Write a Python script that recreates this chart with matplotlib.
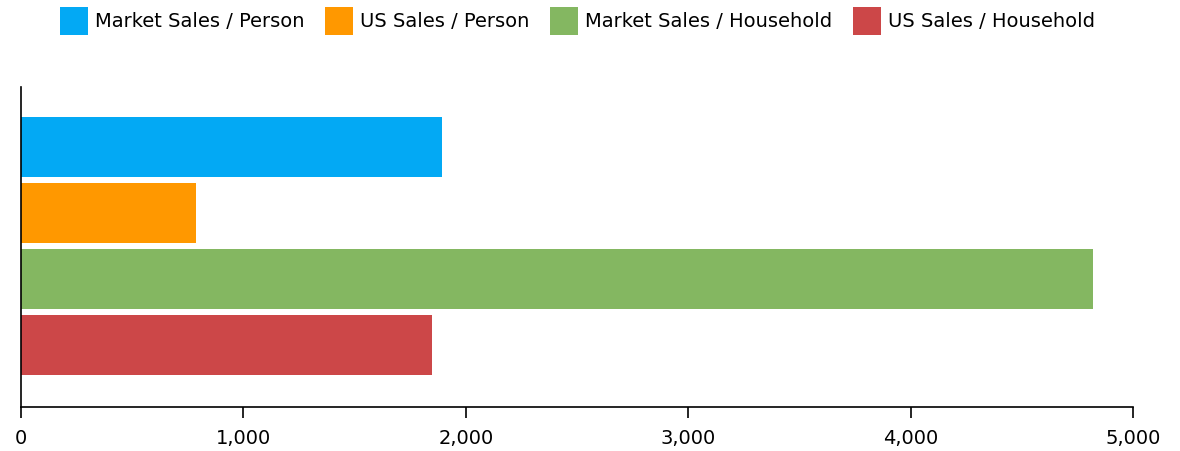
import numpy as np
import matplotlib
matplotlib.use("Agg")
import matplotlib.pyplot as plt
from matplotlib.patches import Patch
from matplotlib.ticker import FuncFormatter

# Data
series = ["Market Sales / Person", "US Sales / Person", "Market Sales / Household", "US Sales / Household"]
values = [1893, 787, 4820, 1848]
colors = ["#03A9F4", "#FF9800", "#84B761", "#CC4748"]
xticks = [0, 1000, 2000, 3000, 4000, 5000]

fig = plt.figure(figsize=(11.8, 4.51), dpi=100)
ax = fig.add_axes([21 / 1180, 1 - 407 / 451, (1133 - 21) / 1180, 320 / 451])

pos = np.arange(len(values))
ax.barh(pos, values, height=60 / 66, color=colors, linewidth=0)
ax.set_ylim(3 + 62 / 66, -60 / 66)
ax.set_xlim(0, 5000)

ax.set_xticks(xticks)
ax.xaxis.set_major_formatter(FuncFormatter(lambda v, p: f"{int(v):,}"))
ax.tick_params(axis="x", labelsize=14, length=8, width=1.2, pad=8, color="black")
ax.set_yticks([])
for s in ["top", "right"]:
    ax.spines[s].set_visible(False)
for s in ["left", "bottom"]:
    ax.spines[s].set_linewidth(1.2)
    ax.spines[s].set_color("black")

handles = [Patch(facecolor=c, edgecolor="none") for c in colors]
fig.legend(handles, series, loc="center", bbox_to_anchor=(577.5 / 1180, 1 - 21 / 451),
           ncol=4, frameon=False, fontsize=14, handlelength=1.44, handleheight=1.84,
           handletextpad=0.36, columnspacing=1.07, borderpad=0, borderaxespad=0)

fig.savefig("out.png", dpi=100)
